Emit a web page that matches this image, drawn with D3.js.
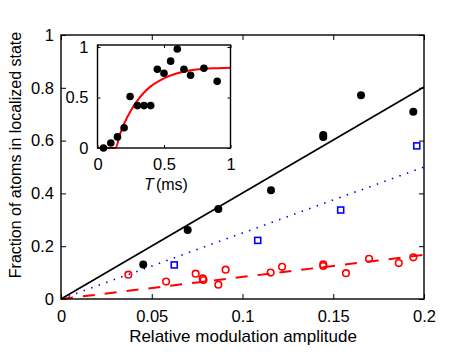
<!DOCTYPE html>
<html>
<head>
<meta charset="utf-8">
<script src="https://cdn.jsdelivr.net/npm/d3@7"></script>
<style>
  body { margin: 0; background: #fff; }
  svg { font-family: "Liberation Sans", Arial, sans-serif; }
  .ax path { display: none; }
</style>
</head>
<body>
<script>
// main panel: fraction vs relative modulation amplitude
var blackX = [0.0453, 0.0698, 0.0867, 0.1157, 0.1445, 0.1445, 0.1653, 0.1941];
var blackY = [0.131, 0.261, 0.341, 0.412, 0.621, 0.614, 0.772, 0.709];
var blueX = [0.0624, 0.1084, 0.1541, 0.1960];
var blueY = [0.129, 0.222, 0.337, 0.580];
var redX = [0.0371, 0.0579, 0.0742, 0.0781, 0.0785, 0.0867, 0.0907, 0.1155, 0.1218, 0.1445, 0.1445, 0.1570, 0.1697, 0.1861, 0.1941];
var redY = [0.092, 0.066, 0.096, 0.078, 0.072, 0.054, 0.111, 0.100, 0.122, 0.131, 0.125, 0.098, 0.152, 0.136, 0.158];
// straight fits, end points
var fitX = [0, 0.2];
var blackFit = [0, 0.803];
var blueFit = [0, 0.500];
var redFit = [0, 0.167];
var xTicks = [0, 0.05, 0.1, 0.15, 0.2];
var yTicks = [0, 0.2, 0.4, 0.6, 0.8, 1];

// inset: fraction vs T (ms)
var insetT = [0.045, 0.10, 0.15, 0.20, 0.245, 0.30, 0.35, 0.40, 0.45, 0.50, 0.55, 0.60, 0.65, 0.70, 0.80, 0.90];
var insetY = [0.00, 0.05, 0.11, 0.20, 0.51, 0.42, 0.42, 0.42, 0.78, 0.74, 0.86, 0.98, 0.78, 0.72, 0.79, 0.66];
var curveT = [0, 0.135, 0.17, 0.2, 0.25, 0.3, 0.35, 0.4, 0.5, 0.6, 0.7, 0.8, 0.9, 1.0];
var curveY = [0, 0, 0.14, 0.24, 0.37, 0.47, 0.55, 0.61, 0.69, 0.74, 0.77, 0.785, 0.79, 0.795];
var insetTicks = [0, 0.5, 1];

var width = 469, height = 354;
var svg = d3.select("body").append("svg")
    .attr("width", width)
    .attr("height", height);

// ---- main axes ----
var m = {left: 61, top: 35, w: 363, h: 264};
var x = d3.scaleLinear().domain([0, 0.2]).range([0, m.w]);
var y = d3.scaleLinear().domain([0, 1]).range([m.h, 0]);
var g = svg.append("g").attr("transform", "translate(" + m.left + "," + m.top + ")");

function fmt(d) { return d === 0 ? "0" : String(+d.toFixed(2)); }

g.append("g").attr("class", "ax")
  .attr("transform", "translate(0," + m.h + ")")
  .call(d3.axisBottom(x).tickValues(xTicks).tickSize(-5).tickPadding(11).tickFormat(fmt));
g.append("g").attr("class", "ax")
  .call(d3.axisTop(x).tickValues(xTicks).tickSize(-5).tickFormat(""));
g.append("g").attr("class", "ax")
  .call(d3.axisLeft(y).tickValues(yTicks).tickSize(-5).tickPadding(7).tickFormat(fmt));
g.append("g").attr("class", "ax")
  .attr("transform", "translate(" + m.w + ",0)")
  .call(d3.axisRight(y).tickValues(yTicks).tickSize(-5).tickFormat(""));
g.selectAll(".ax text").attr("font-size", 16.5).attr("fill", "#000")
  .attr("font-family", "Liberation Sans, Arial, sans-serif");
g.selectAll(".ax line").attr("stroke", "#000");

// fit lines
var line = d3.line().x(function(d) { return x(d[0]); }).y(function(d) { return y(d[1]); });
function fitPts(ys) { return fitX.map(function(v, i) { return [v, ys[i]]; }); }
g.append("path").attr("d", line(fitPts(blueFit)))
  .attr("fill", "none").attr("stroke", "#0000ff").attr("stroke-width", 1.6)
  .attr("stroke-dasharray", "1.5,6.5");
g.append("path").attr("d", line(fitPts(redFit)))
  .attr("fill", "none").attr("stroke", "#ff0000").attr("stroke-width", 2)
  .attr("stroke-dasharray", "12,10");
g.append("path").attr("d", line(fitPts(blackFit)))
  .attr("fill", "none").attr("stroke", "#000").attr("stroke-width", 1.7);

// data markers
g.selectAll("circle.red").data(redX).enter().append("circle")
  .attr("class", "red")
  .attr("cx", function(d) { return x(d); })
  .attr("cy", function(d, i) { return y(redY[i]); })
  .attr("r", 3.3)
  .attr("fill", "none").attr("stroke", "#ff0000").attr("stroke-width", 1.6);
g.selectAll("rect.blue").data(blueX).enter().append("rect")
  .attr("class", "blue")
  .attr("x", function(d) { return x(d) - 3; })
  .attr("y", function(d, i) { return y(blueY[i]) - 3; })
  .attr("width", 6).attr("height", 6)
  .attr("fill", "none").attr("stroke", "#0000ff").attr("stroke-width", 1.6);
g.selectAll("circle.blk").data(blackX).enter().append("circle")
  .attr("class", "blk")
  .attr("cx", function(d) { return x(d); })
  .attr("cy", function(d, i) { return y(blackY[i]); })
  .attr("r", 4)
  .attr("fill", "#000");

// box
g.append("rect").attr("width", m.w).attr("height", m.h)
  .attr("fill", "none").attr("stroke", "#000").attr("stroke-width", 1.4);

// axis labels
svg.append("text")
  .attr("x", 243).attr("y", 342)
  .attr("text-anchor", "middle").attr("font-size", 17)
  .text("Relative modulation amplitude");
svg.append("text")
  .attr("transform", "translate(21,155) rotate(-90)")
  .attr("text-anchor", "middle").attr("font-size", 16)
  .text("Fraction of atoms in localized state");

// ---- inset ----
var n = {left: 97.5, top: 45, w: 133, h: 103};
var ix = d3.scaleLinear().domain([0, 1]).range([0, n.w]);
var iy = d3.scaleLinear().domain([0, 1.02]).range([n.h, 0]);
var gi = svg.append("g").attr("transform", "translate(" + n.left + "," + n.top + ")");
gi.append("rect").attr("width", n.w).attr("height", n.h).attr("fill", "#fff");

gi.append("g").attr("class", "ax")
  .attr("transform", "translate(0," + n.h + ")")
  .call(d3.axisBottom(ix).tickValues(insetTicks).tickSize(-3).tickPadding(10).tickFormat(fmt));
gi.append("g").attr("class", "ax")
  .call(d3.axisTop(ix).tickValues(insetTicks).tickSize(-3).tickFormat(""));
gi.append("g").attr("class", "ax")
  .call(d3.axisLeft(iy).tickValues(insetTicks).tickSize(-3).tickPadding(9).tickFormat(fmt));
gi.append("g").attr("class", "ax")
  .attr("transform", "translate(" + n.w + ",0)")
  .call(d3.axisRight(iy).tickValues(insetTicks).tickSize(-3).tickFormat(""));
gi.selectAll(".ax text").attr("font-size", 16.5).attr("fill", "#000")
  .attr("font-family", "Liberation Sans, Arial, sans-serif");
gi.selectAll(".ax line").attr("stroke", "#000");

var curve = d3.line()
  .x(function(d) { return ix(d); })
  .y(function(d, i) { return iy(curveY[i]); })
  .curve(d3.curveMonotoneX);
gi.append("path").attr("d", curve(curveT))
  .attr("fill", "none").attr("stroke", "#ff0000").attr("stroke-width", 2);

gi.selectAll("circle").data(insetT).enter().append("circle")
  .attr("cx", function(d) { return ix(d); })
  .attr("cy", function(d, i) { return iy(insetY[i]); })
  .attr("r", 3.8)
  .attr("fill", "#000");

gi.append("rect").attr("width", n.w).attr("height", n.h)
  .attr("fill", "none").attr("stroke", "#000").attr("stroke-width", 1.4);

var tl = svg.append("text")
  .attr("x", n.left + n.w / 2 + 2).attr("y", 190)
  .attr("text-anchor", "middle").attr("font-size", 16);
tl.append("tspan").attr("font-style", "italic").text("T");
tl.append("tspan").attr("dx", 2).text("(ms)");
</script>
</body>
</html>
